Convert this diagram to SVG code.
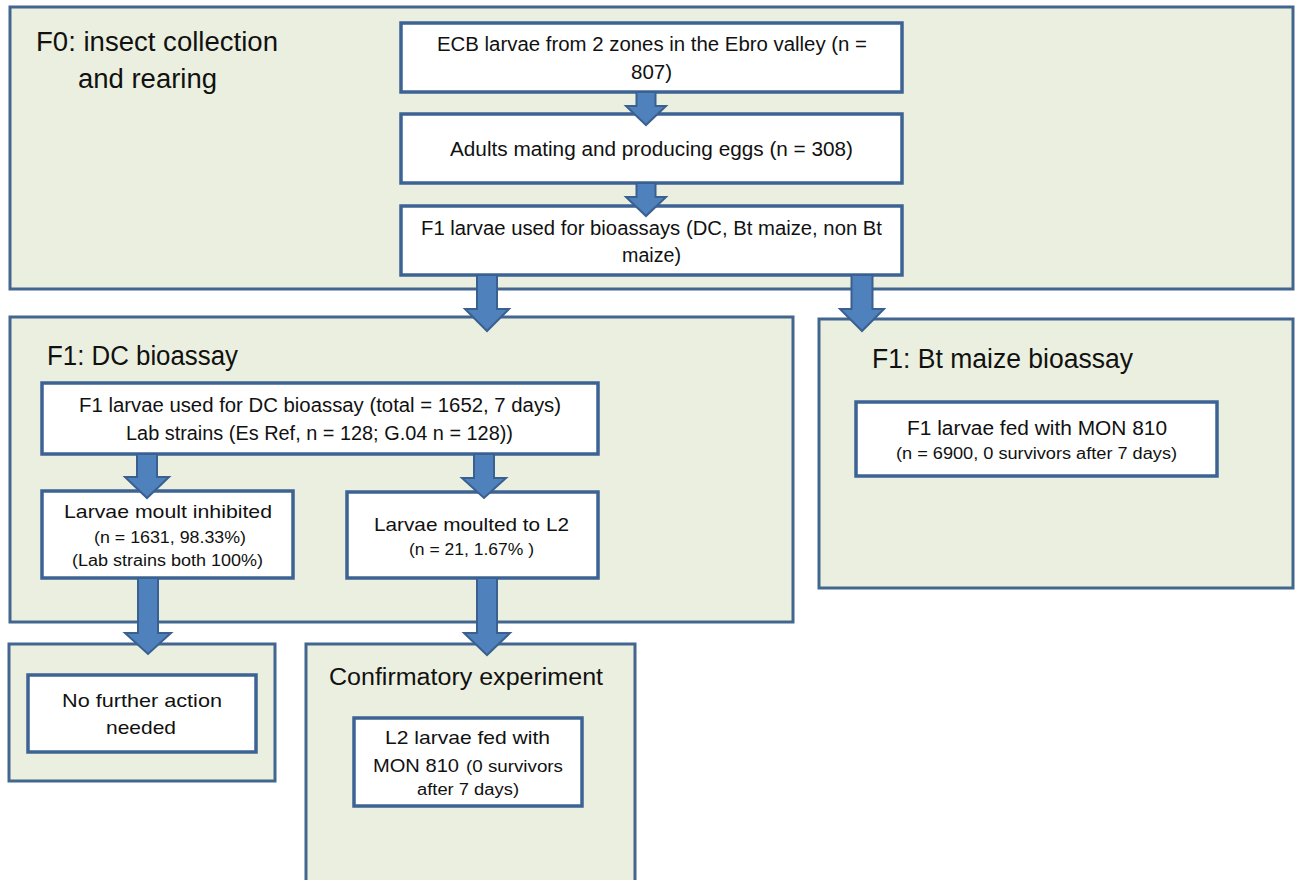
<svg xmlns="http://www.w3.org/2000/svg" width="1298" height="880" viewBox="0 0 1298 880">
<style>
.cont{fill:#EBEFDF;stroke:#43668F;stroke-width:3}
.box{fill:#FFFFFF;stroke:#3D6394;stroke-width:3.5}
.arr{fill:#4F81BD;stroke:#3A6090;stroke-width:2;stroke-linejoin:miter}
text{font-family:"Liberation Sans",Arial,sans-serif;fill:#111}
.t{font-size:27px}
.b{font-size:20px}
.m{font-size:19px}
.s{font-size:16px}
.c{text-anchor:middle}
</style>
<rect width="1298" height="880" fill="#FFFFFF"/>
<g id="f0">
<rect class="cont" x="10" y="7" width="1283" height="282"/>
<text class="t" x="36" y="51" textLength="242" lengthAdjust="spacingAndGlyphs">F0: insect collection</text>
<text class="t" x="78" y="88" textLength="139" lengthAdjust="spacingAndGlyphs">and rearing</text>
</g>
<g id="ecb">
<rect class="box" x="401" y="23" width="501" height="69"/>
<text class="b" x="437" y="51" textLength="430" lengthAdjust="spacingAndGlyphs">ECB larvae from 2 zones in the Ebro valley (n =</text>
<text class="b" x="631" y="79" textLength="41" lengthAdjust="spacingAndGlyphs">807)</text>
</g>
<g id="adults">
<rect class="box" x="401" y="114" width="501" height="69"/>
<text class="b" x="450" y="156" textLength="403" lengthAdjust="spacingAndGlyphs">Adults mating and producing eggs (n = 308)</text>
</g>
<g id="f1larvae">
<rect class="box" x="401" y="206" width="501" height="69"/>
<text class="b" x="421" y="235" textLength="461" lengthAdjust="spacingAndGlyphs">F1 larvae used for bioassays (DC, Bt maize, non Bt</text>
<text class="b" x="622" y="262" textLength="59" lengthAdjust="spacingAndGlyphs">maize)</text>
</g>
<g id="dc">
<rect class="cont" x="10" y="317" width="783" height="305"/>
<text class="t" x="47" y="365" textLength="191" lengthAdjust="spacingAndGlyphs">F1: DC bioassay</text>
</g>
<g id="dcbox">
<rect class="box" x="42" y="383" width="556" height="71"/>
<text class="b" x="79" y="412" textLength="482" lengthAdjust="spacingAndGlyphs">F1 larvae used for DC bioassay (total = 1652, 7 days)</text>
<text class="b" x="126" y="440" textLength="387" lengthAdjust="spacingAndGlyphs">Lab strains (Es Ref, n = 128; G.04 n = 128))</text>
</g>
<g id="inhibited">
<rect class="box" x="42" y="491" width="251" height="87"/>
<text class="m" x="64" y="518" textLength="208" lengthAdjust="spacingAndGlyphs">Larvae moult inhibited</text>
<text class="s" x="94" y="543" textLength="152" lengthAdjust="spacingAndGlyphs">(n = 1631, 98.33%)</text>
<text class="s" x="72" y="566" textLength="191" lengthAdjust="spacingAndGlyphs">(Lab strains both 100%)</text>
</g>
<g id="moulted">
<rect class="box" x="347" y="492" width="251" height="86"/>
<text class="m" x="374" y="531" textLength="195" lengthAdjust="spacingAndGlyphs">Larvae moulted to L2</text>
<text class="s" x="409" y="555" textLength="125" lengthAdjust="spacingAndGlyphs">(n = 21, 1.67% )</text>
</g>
<g id="bt">
<rect class="cont" x="819" y="319" width="474" height="269"/>
<text class="t" x="872" y="368" textLength="261" lengthAdjust="spacingAndGlyphs">F1: Bt maize bioassay</text>
</g>
<g id="btbox">
<rect class="box" x="856" y="402" width="361" height="74"/>
<text class="b" x="907" y="435" textLength="260" lengthAdjust="spacingAndGlyphs">F1 larvae fed with MON 810</text>
<text class="s" x="896" y="459" textLength="281" lengthAdjust="spacingAndGlyphs">(n = 6900, 0 survivors after 7 days)</text>
</g>
<g id="nofurther">
<rect class="cont" x="9" y="644" width="266" height="137"/>
<rect class="box" x="28" y="675" width="228" height="77"/>
<text class="m" x="62" y="707" textLength="160" lengthAdjust="spacingAndGlyphs">No further action</text>
<text class="m" x="106" y="734" textLength="70" lengthAdjust="spacingAndGlyphs">needed</text>
</g>
<g id="confirm">
<rect class="cont" x="306" y="644" width="329" height="250"/>
<text x="329" y="685" font-size="23" textLength="274" lengthAdjust="spacingAndGlyphs">Confirmatory experiment</text>
<rect class="box" x="354" y="718" width="228" height="88"/>
<text class="m" x="385" y="744" textLength="165" lengthAdjust="spacingAndGlyphs">L2 larvae fed with</text>
<text class="m" x="373" y="772" textLength="86" lengthAdjust="spacingAndGlyphs">MON 810</text>
<text class="s" x="466" y="772" textLength="97" lengthAdjust="spacingAndGlyphs">(0 survivors</text>
<text class="s" x="417" y="795" textLength="102" lengthAdjust="spacingAndGlyphs">after 7 days)</text>
</g>
<g id="connectors">
<path class="arr" d="M636.5,92 L655.5,92 L655.5,106 L666,106 L646,125 L626,106 L636.5,106 Z"/>
<path class="arr" d="M636.5,183 L655.5,183 L655.5,197 L666,197 L646,216 L626,197 L636.5,197 Z"/>
<path class="arr" d="M477,275 L497,275 L497,309 L509,309 L487,331 L465,309 L477,309 Z"/>
<path class="arr" d="M851.5,275 L872.5,275 L872.5,309 L884,309 L862,331 L840,309 L851.5,309 Z"/>
<path class="arr" d="M137,454 L157,454 L157,477 L169,477 L147,498 L125,477 L137,477 Z"/>
<path class="arr" d="M474,454 L494,454 L494,478 L506,478 L484,498 L462,478 L474,478 Z"/>
<path class="arr" d="M138,578 L158,578 L158,633 L171,633 L148,654 L125,633 L138,633 Z"/>
<path class="arr" d="M477,578 L497,578 L497,633 L510,633 L487,655 L464,633 L477,633 Z"/>
</g>
</svg>
